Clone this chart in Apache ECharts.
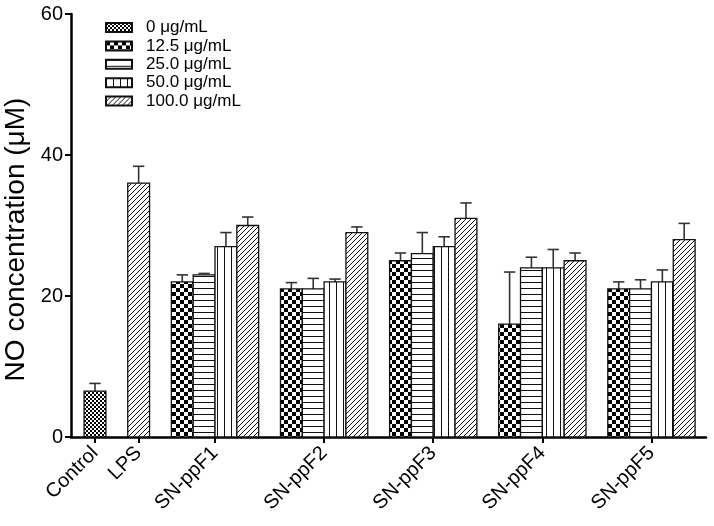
<!DOCTYPE html>
<html>
<head>
<meta charset="utf-8">
<script src="https://cdn.jsdelivr.net/npm/echarts@6/dist/echarts.min.js"></script>
<style>html,body{margin:0;padding:0;background:#fff}#chart{width:714px;height:526px}</style>
</head>
<body>
<div id="chart"></div>
<script>
// ---- data ----
var categories = ['Control', 'LPS', 'SN-ppF1', 'SN-ppF2', 'SN-ppF3', 'SN-ppF4', 'SN-ppF5'];
// positions of categories along the x axis (in bar-width units, as in the original plot)
var categoryPositions = [1.1, 3.1, 6.6, 11.6, 16.6, 21.6, 26.6];
var seriesNames = ['0 \u03bcg/mL', '12.5 \u03bcg/mL', '25.0 \u03bcg/mL', '50.0 \u03bcg/mL', '100.0 \u03bcg/mL'];
var conc0     = [6.5, null, null, null, null, null, null];
var conc12_5  = [null, null, 22, 21, 25, 16, 21];
var conc25    = [null, null, 23, 21, 26, 24, 21];
var conc50    = [null, null, 27, 22, 27, 24, 22];
var conc100   = [null, 36, 30, 29, 31, 25, 28];
var err0      = [1.1, null, null, null, null, null, null];
var err12_5   = [null, null, 1.0, 0.9, 1.1, 7.4, 1.0];
var err25     = [null, null, 0.2, 1.5, 3.0, 1.5, 1.3];
var err50     = [null, null, 2.0, 0.4, 1.4, 2.6, 1.7];
var err100    = [null, 2.4, 1.2, 0.8, 2.2, 1.1, 2.3];
var yTicks = [0, 20, 40, 60];

var values = [conc0, conc12_5, conc25, conc50, conc100];
var errors = [err0, err12_5, err25, err50, err100];

// ---- patterns ----
function makeCanvas(w, h, draw) {
  var c = document.createElement('canvas');
  c.width = w; c.height = h;
  var ctx = c.getContext('2d');
  ctx.fillStyle = '#fff'; ctx.fillRect(0, 0, w, h);
  draw(ctx);
  return c;
}
var patterns = [
  makeCanvas(4, 4, function (ctx) { ctx.fillStyle = '#000'; ctx.fillRect(0, 0, 2, 2); ctx.fillRect(2, 2, 2, 2); }),
  makeCanvas(8, 8, function (ctx) { ctx.fillStyle = '#000'; ctx.fillRect(0, 0, 4, 4); ctx.fillRect(4, 4, 4, 4); }),
  makeCanvas(1, 6, function (ctx) { ctx.fillStyle = '#111'; ctx.fillRect(0, 0, 1, 1); }),
  makeCanvas(7, 1, function (ctx) { ctx.fillStyle = '#111'; ctx.fillRect(0, 0, 1, 1); }),
  makeCanvas(5, 5, function (ctx) {
    ctx.strokeStyle = '#111'; ctx.lineWidth = 1;
    ctx.beginPath(); ctx.moveTo(-1, 6); ctx.lineTo(6, -1); ctx.stroke();
    ctx.beginPath(); ctx.moveTo(-1, 1); ctx.lineTo(1, -1); ctx.stroke();
    ctx.beginPath(); ctx.moveTo(4, 6); ctx.lineTo(6, 4); ctx.stroke();
  })
].map(function (c) { return { image: c, repeat: 'repeat' }; });

// offset of each bar within its category group
function buildData(s) {
  var out = [];
  for (var i = 0; i < categories.length; i++) {
    if (values[s][i] == null) continue;
    var present = [];
    for (var k = 0; k < values.length; k++) if (values[k][i] != null) present.push(k);
    var idx = present.indexOf(s);
    var off = idx - (present.length - 1) / 2;
    out.push([categoryPositions[i], values[s][i], errors[s][i], off]);
  }
  return out;
}

function makeRender(s) {
  return function (params, api) {
    var x = api.value(0), y = api.value(1), e = api.value(2), off = api.value(3);
    var unit = api.size([1, 0])[0];
    var base = api.coord([x, 0]);
    var top = api.coord([x, y]);
    var et = api.coord([x, y + e]);
    var cx = base[0] + off * unit;
    var w = unit;
    return {
      type: 'group',
      children: [
        { type: 'line', z2: 1, shape: { x1: cx, y1: top[1], x2: cx, y2: et[1] }, style: { stroke: '#333', lineWidth: 1.6 } },
        { type: 'line', z2: 1, shape: { x1: cx - w * 0.26, y1: et[1], x2: cx + w * 0.26, y2: et[1] }, style: { stroke: '#333', lineWidth: 1.6 } },
        { type: 'rect', z2: 2, shape: { x: cx - w / 2, y: top[1], width: w, height: base[1] - top[1] },
          style: { fill: patterns[s], stroke: '#111', lineWidth: 1.3 } }
      ]
    };
  };
}

var series = seriesNames.map(function (name, s) {
  return {
    name: name,
    type: 'custom',
    renderItem: makeRender(s),
    itemStyle: { color: patterns[s], borderColor: '#111', borderWidth: 1.2 },
    encode: { x: 0, y: 1 },
    data: buildData(s)
  };
});

var chart = echarts.init(document.getElementById('chart'), null, { renderer: 'canvas' });
var font = 'Arial, "Liberation Sans", sans-serif';
chart.setOption({
  animation: false,
  backgroundColor: '#fff',
  grid: { left: 71, right: 8, top: 14, bottom: 89, containLabel: false, outerBoundsMode: 'none' },
  legend: {
    orient: 'vertical',
    left: 100,
    top: 14,
    icon: 'rect',
    itemWidth: 26,
    itemHeight: 9,
    itemGap: 1.4,
    selectedMode: false,
    textStyle: { fontFamily: font, fontSize: 17, color: '#000', lineHeight: 17, padding: [0, 0, 0, 9] },
    data: seriesNames
  },
  xAxis: {
    type: 'value',
    min: 0,
    max: 29.1,
    splitLine: { show: false },
    axisLine: { show: true, lineStyle: { color: '#000', width: 2.5 } },
    axisTick: { show: true, length: 6, lineStyle: { color: '#000', width: 2 }, customValues: categoryPositions },
    axisLabel: {
      customValues: categoryPositions,
      rotate: 45,
      margin: 13,
      fontFamily: font,
      fontSize: 20,
      color: '#000',
      formatter: function (v) {
        var best = 0, bd = Infinity;
        for (var i = 0; i < categoryPositions.length; i++) {
          var d = Math.abs(categoryPositions[i] - v);
          if (d < bd) { bd = d; best = i; }
        }
        return categories[best];
      }
    }
  },
  yAxis: {
    type: 'value',
    min: yTicks[0],
    max: yTicks[yTicks.length - 1],
    interval: 20,
    name: 'NO concentration (\u03bcM)',
    nameLocation: 'middle',
    nameRotate: 90,
    nameGap: 40,
    nameTextStyle: { fontFamily: font, fontSize: 28, color: '#000', padding: [0, 28, 0, 0] },
    splitLine: { show: false },
    axisLine: { show: true, lineStyle: { color: '#000', width: 2.5 } },
    axisTick: { show: true, length: 6, lineStyle: { color: '#000', width: 2 } },
    axisLabel: { fontFamily: font, fontSize: 20, color: '#000', margin: 8 }
  },
  series: series
});
</script>
</body>
</html>
